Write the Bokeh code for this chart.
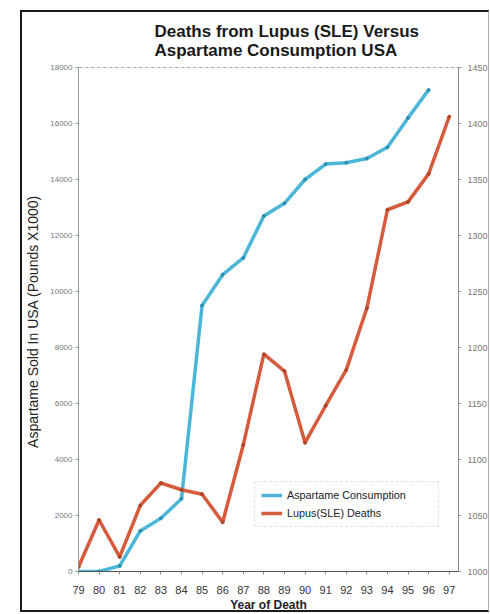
from bokeh.plotting import figure
from bokeh.models import Range1d, LinearAxis, FixedTicker, Legend, LegendItem, Title
from bokeh.embed import file_html
from bokeh.resources import INLINE

# ---- data ----
years = [79, 80, 81, 82, 83, 84, 85, 86, 87, 88, 89, 90, 91, 92, 93, 94, 95, 96, 97]
aspartame_years = [79, 80, 81, 82, 83, 84, 85, 86, 87, 88, 89, 90, 91, 92, 93, 94, 95, 96]
aspartame = [0, 0, 200, 1450, 1900, 2600, 9500, 10600, 11200, 12700, 13150, 14000,
             14550, 14600, 14750, 15150, 16200, 17200]
lupus = [1004, 1046, 1013, 1059, 1079, 1073, 1069, 1044, 1113, 1194, 1179, 1115,
         1148, 1180, 1235, 1323, 1330, 1355, 1406]
left_ticks = [0, 2000, 4000, 6000, 8000, 10000, 12000, 14000, 16000, 18000]
right_ticks = [1000, 1050, 1100, 1150, 1200, 1250, 1300, 1350, 1400, 1450]

BLUE = "#4cb6d8"
RED = "#d65a3c"
FONT = "Liberation Sans"
W, H = 466, 598

p = figure(width=W, height=H, output_backend="svg", toolbar_location=None,
           x_range=Range1d(79, 97.45), y_range=Range1d(0, 18000),
           min_border_left=56, min_border_right=33, min_border_top=55, min_border_bottom=43)
p.title = None
p.styles = {"box-sizing": "content-box", "margin-left": "20px", "margin-top": "10px",
            "border-left": "2px solid #1a1a1a", "border-top": "2px solid #1a1a1a",
            "border-bottom": "2px solid #1a1a1a", "border-right": "1px solid #b0b0b0"}
p.extra_y_ranges = {"right": Range1d(1000, 1450)}
p.background_fill_color = "white"
p.border_fill_color = "white"
p.outline_line_color = "#b0b0b0"
p.outline_line_dash = "4 2"
p.xgrid.visible = False
p.ygrid.visible = False

# two-line title
p.add_layout(Title(text="Deaths from Lupus (SLE) Versus\nAspartame Consumption USA",
                   align="left", offset=76, text_font=FONT, text_font_size="17px",
                   text_font_style="bold", text_color="#1a1a1a", standoff=15), "above")

# left axis
ya = p.yaxis[0]
ya.ticker = FixedTicker(ticks=left_ticks)
ya.axis_label = "Aspartame Sold In USA  (Pounds X1000)"
ya.axis_label_text_font = FONT
ya.axis_label_text_font_size = "14px"
ya.axis_label_text_font_style = "normal"
ya.axis_label_text_color = "#222222"
ya.axis_label_standoff = 6
ya.major_label_text_font = FONT
ya.major_label_text_font_size = "8px"
ya.major_label_text_color = "#777777"
ya.major_label_standoff = 3
ya.major_tick_out = 3
ya.major_tick_in = 0
ya.minor_tick_out = 0
ya.minor_tick_in = 0
ya.axis_line_color = "#999999"
ya.major_tick_line_color = "#999999"

# right axis
ra = LinearAxis(y_range_name="right", ticker=FixedTicker(ticks=right_ticks))
ra.major_label_text_font = FONT
ra.major_label_text_font_size = "9px"
ra.major_label_text_color = "#777777"
ra.major_label_standoff = 6
ra.major_tick_out = 3
ra.major_tick_in = 0
ra.minor_tick_out = 0
ra.minor_tick_in = 0
ra.axis_line_color = "#888888"
ra.major_tick_line_color = "#999999"
p.add_layout(ra, "right")

# x axis
xa = p.xaxis[0]
xa.ticker = FixedTicker(ticks=years)
xa.axis_label = "Year of Death"
xa.axis_label_text_font = FONT
xa.axis_label_text_font_size = "12px"
xa.axis_label_text_font_style = "bold"
xa.axis_label_text_color = "#222222"
xa.axis_label_standoff = 1
xa.major_label_text_font = FONT
xa.major_label_text_font_size = "11px"
xa.major_label_text_color = "#333333"
xa.major_label_standoff = 11
xa.major_tick_out = 3
xa.major_tick_in = 0
xa.minor_tick_out = 0
xa.minor_tick_in = 0
xa.axis_line_color = "#555555"
xa.major_tick_line_color = "#888888"

# lines
lb = p.line(aspartame_years, aspartame, line_color=BLUE, line_width=3.5)
p.scatter(aspartame_years, aspartame, size=3, color="#2f8fb0")
lr = p.line(years, lupus, line_color=RED, line_width=3.5, y_range_name="right")
p.scatter(years, lupus, size=3, color="#b04528", y_range_name="right")

legend = Legend(items=[LegendItem(label="Aspartame Consumption", renderers=[lb]),
                       LegendItem(label="Lupus(SLE) Deaths", renderers=[lr])],
                location=(176, 44), padding=6, spacing=4, label_height=14,
                glyph_width=21, glyph_height=14, label_standoff=5, label_width=145,
                margin=0, label_text_font=FONT, label_text_font_size="10.8px",
                label_text_color="#222222", border_line_color="#c0c0c0",
                border_line_dash="3 2", background_fill_alpha=1)
p.add_layout(legend, "center")

open("out.html", "w").write(file_html(p, INLINE))
